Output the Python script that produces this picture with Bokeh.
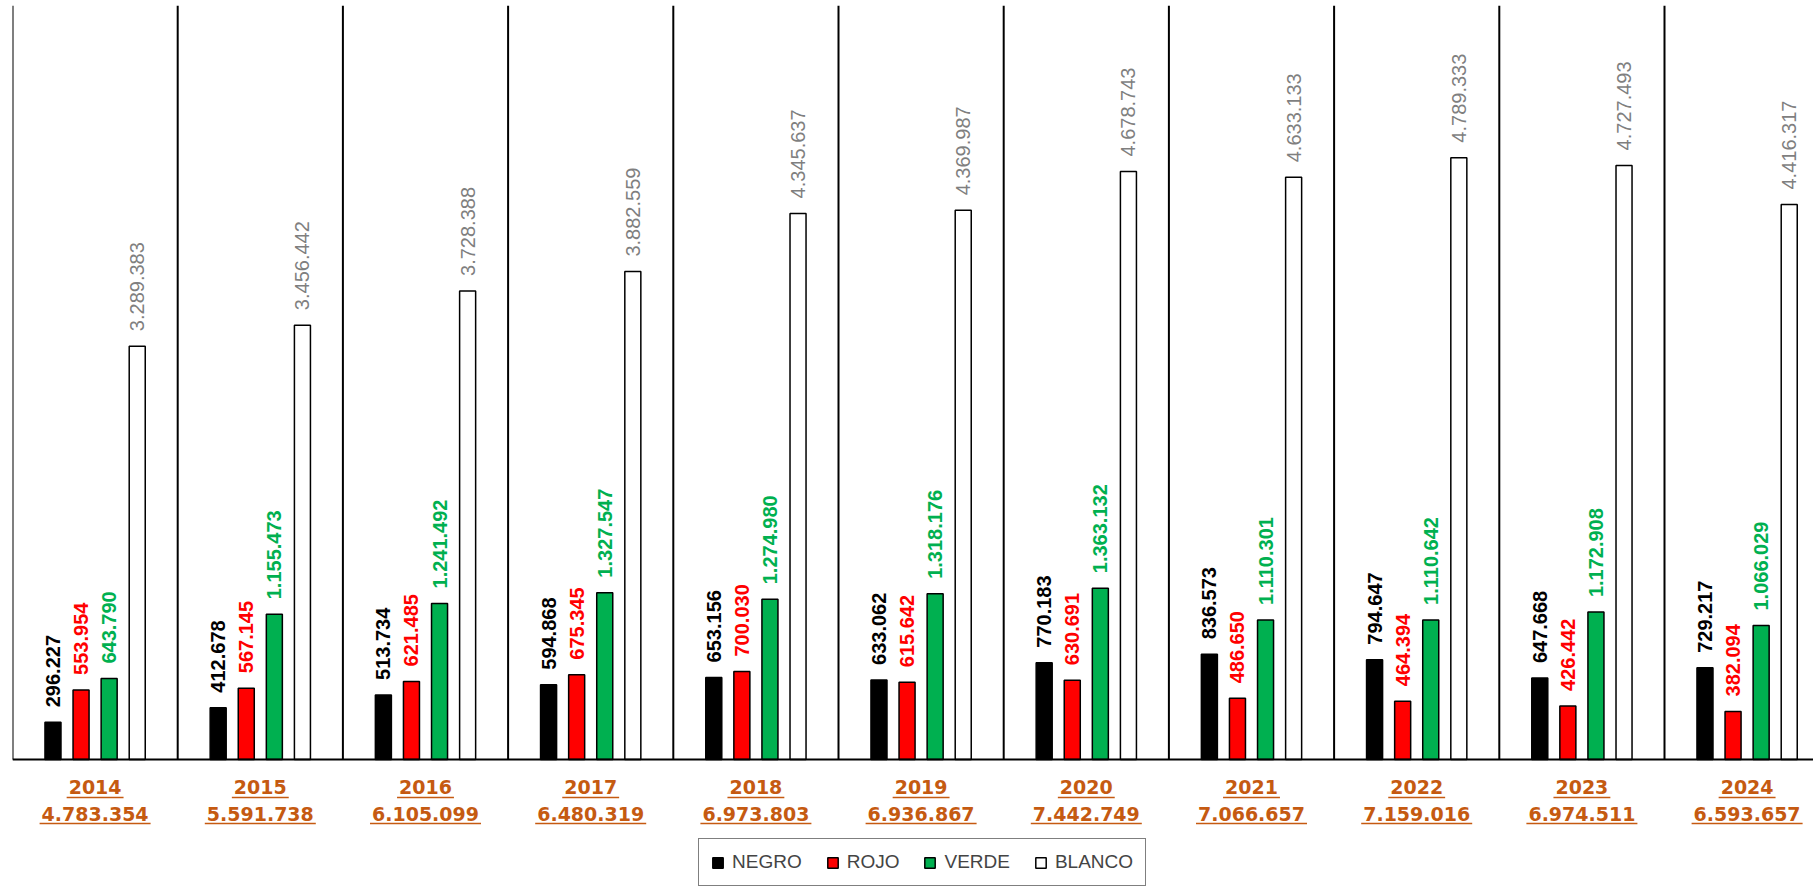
import math
from bokeh.plotting import figure
from bokeh.models import Legend, LegendItem, Span
from bokeh.embed import file_html
from bokeh.resources import INLINE
from bokeh.core.properties import value

# ---------------- data ----------------
years = ["2014", "2015", "2016", "2017", "2018", "2019", "2020", "2021", "2022", "2023", "2024"]
totals = ["4.783.354", "5.591.738", "6.105.099", "6.480.319", "6.973.803", "6.936.867",
          "7.442.749", "7.066.657", "7.159.016", "6.974.511", "6.593.657"]
negro = [296227, 412678, 513734, 594868, 653156, 633062, 770183, 836573, 794647, 647668, 729217]
rojo = [553954, 567145, 621485, 675345, 700030, 615642, 630691, 486650, 464394, 426442, 382094]
verde = [643790, 1155473, 1241492, 1327547, 1274980, 1318176, 1363132, 1110301, 1110642, 1172908, 1066029]
blanco = [3289383, 3456442, 3728388, 3882559, 4345637, 4369987, 4678743, 4633133, 4789333, 4727493, 4416317]
series_names = ["NEGRO", "ROJO", "VERDE", "BLANCO"]

# ---------------- style ----------------
fills = ["#000000", "#FF0000", "#00B050", "#FFFFFF"]
label_colors = ["#000000", "#FF0000", "#00B050", "#7F7F7F"]
label_styles = ["bold", "bold", "bold", "normal"]
label_gaps = [15, 15, 15, 15]
ORANGE = "#C55A11"

W, H = 1813, 886
LEFT, TOP = 12, 5
CAT_PX = 165.2          # pixel width of one year group
BASE_PX = 754           # baseline distance from frame top
Y_MAX = 6_000_000
UPP = Y_MAX / BASE_PX   # value units per pixel
x_end = (W - LEFT) / CAT_PX
y_top = Y_MAX
y_bot = -UPP * (H - TOP - BASE_PX)

offsets = [-0.255, -0.085, 0.085, 0.255]
BAR_W = 0.097

def fmt(v):
    return f"{v:,}".replace(",", ".")

p = figure(width=W, height=H, output_backend="svg", toolbar_location=None,
           x_range=(0, x_end), y_range=(y_bot, y_top),
           x_axis_location=None, y_axis_location=None,
           min_border_left=LEFT, min_border_right=0, min_border_top=TOP, min_border_bottom=0)
p.grid.visible = False
p.outline_line_color = None
p.background_fill_color = "white"
p.border_fill_color = "white"

n = len(years)
# group separators
sep_x = list(range(n))
p.segment(x0=sep_x, y0=[0] * n, x1=sep_x, y1=[y_top] * n, line_color="black", line_width=2)
p.add_layout(Span(location=0, dimension="width", line_color="black", line_width=2))

renderers = []
for k, vals in enumerate([negro, rojo, verde, blanco]):
    xs = [i + 0.5 + offsets[k] for i in range(n)]
    r = p.vbar(x=xs, top=vals, bottom=0, width=BAR_W, fill_color=fills[k],
               line_color="black", line_width=1.5)
    renderers.append(r)
    p.text(x=xs, y=vals, text=[fmt(v) for v in vals], angle=math.pi / 2,
           text_align="left", text_baseline="middle", y_offset=-label_gaps[k],
           text_font=value("Liberation Sans"), text_font_size="20px",
           text_font_style=label_styles[k], text_color=label_colors[k])

# category labels (year + total), underlined
centers = [i + 0.5 for i in range(n)]
XL_FS = 19
def text_w(s):
    return sum(0.38 * XL_FS if ch == "." else 0.696 * XL_FS for ch in s) + 4

for txt, off, uoff in [(years, 27, 38), (totals, 54, 64)]:
    p.text(x=centers, y=[0] * n, text=txt, y_offset=off, text_align="center",
           text_baseline="middle", text_font=value("DejaVu Sans"),
           text_font_size=f"{XL_FS}px", text_font_style="bold", text_color=ORANGE)
    p.rect(x=centers, y=[-UPP * uoff] * n, width=[text_w(s) for s in txt], height=1.5,
           width_units="screen", height_units="screen", fill_color=ORANGE, line_color=None)

legend = Legend(items=[LegendItem(label=series_names[k], renderers=[renderers[k]]) for k in range(4)],
                orientation="horizontal", location=(686, 0), padding=12, spacing=24,
                glyph_width=13, glyph_height=13, label_standoff=8, label_height=20,
                label_text_font="Liberation Sans", label_text_font_size="19px",
                border_line_color="black", border_line_width=1.5, margin=0,
                background_fill_color="white", background_fill_alpha=1)
p.add_layout(legend)

open("out.html", "w").write(file_html(p, INLINE))
